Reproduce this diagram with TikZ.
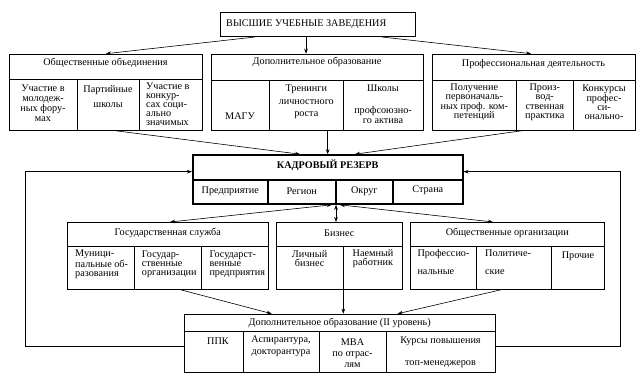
\documentclass[tikz,border=0pt]{standalone}
\usepackage{fontspec}
\setmainfont{Liberation Serif}
\usetikzlibrary{arrows.meta,fit,calc}
\begin{document}
\begin{tikzpicture}[x=1pt,y=-1pt,
  box/.style={draw, line width=0.6pt, inner sep=0pt},
  tbox/.style={draw, line width=1.6pt, inner sep=0pt},
  arr/.style={line width=0.6pt, -{Stealth[length=5pt,width=3.6pt]}},
  darr/.style={line width=0.6pt, {Stealth[length=5pt,width=3.6pt]}-{Stealth[length=5pt,width=3.6pt]}},
  lsp/.style={font=\fontsize{10.2}{#1}\selectfont},
  t/.style={lsp=9.3, inner sep=0pt, align=center},
  tl/.style={t, align=left},
]
\useasboundingbox (0,0) rectangle (643,385);

% ---------- top ----------
\node[box, fit={(220,12.3)(415,36.7)}] (vuz) {};
\node[t, anchor=west] (vuzt) at (226,24) {ВЫСШИЕ УЧЕБНЫЕ ЗАВЕДЕНИЯ};

% ---------- left group ----------
\node[box, fit={(9,54)(202,130)}] (og) {};
\node[box, fit={(9,54)(202,79)}] (ogh) {};
\node[box, fit={(9,79)(77,130)}] (og1) {};
\node[box, fit={(77,79)(139,130)}] (og2) {};
\node[box, fit={(139,79)(202,130)}] (og3) {};
\node[t] (oght) at (105.5,63.3) {Общественные объединения};
\node[t, lsp=10] (og1t) at (43,103.3) {Участие в\\молодеж-\\ных фору-\\мах};
\node[t, lsp=15] (og2t) at (108,96.5) {Партийные\\школы};
\node[tl, lsp=9, anchor=west] (og3t) at (146,104.5) {Участие в\\конкур-\\сах соци-\\ально\\значимых};

% ---------- middle group ----------
\node[box, fit={(211,54)(423,130)}] (do) {};
\node[box, fit={(211,54)(423,80)}] (doh) {};
\node[box, fit={(211,80)(269.5,130)}] (do1) {};
\node[box, fit={(269.5,80)(343,130)}] (do2) {};
\node[box, fit={(343,80)(423,130)}] (do3) {};
\node[t] (doht) at (317,62.3) {Дополнительное образование};
\node[t] (do1t) at (240,116) {МАГУ};
\node[t, lsp=12.5] (do2t) at (306.3,101.8) {Тренинги\\личностного\\роста};
\node[t, lsp=10] (do3t) at (383,104.2) {Школы\\[11.7pt]профсоюзно-\\го актива};

% ---------- right group ----------
\node[box, fit={(432,54)(635,130)}] (pd) {};
\node[box, fit={(432,54)(635,80)}] (pdh) {};
\node[box, fit={(432,80)(516.7,130)}] (pd1) {};
\node[box, fit={(516.7,80)(573,130)}] (pd2) {};
\node[box, fit={(573,80)(635,130)}] (pd3) {};
\node[t] (pdht) at (533.5,64) {Профессиональная деятельность};
\node[t, lsp=9.2] (pd1t) at (474.3,102.2) {Получение\\первоначаль-\\ных проф. ком-\\петенций};
\node[t, lsp=9.2] (pd2t) at (544.8,102.2) {Произ-\\вод-\\ственная\\практика};
\node[t, lsp=9.2] (pd3t) at (604,102.2) {Конкурсы\\профес-\\си-\\онально-};

% ---------- кадровый резерв ----------
\node[tbox, fit={(192.7,155)(462.7,204)}] (kr) {};
\node[tbox, fit={(192.7,155)(462.7,180)}] (krh) {};
\node[tbox, fit={(192.7,180)(268,204)}] (kr1) {};
\node[tbox, fit={(268,180)(335.7,204)}] (kr2) {};
\node[tbox, fit={(335.7,180)(393,204)}] (kr3) {};
\node[tbox, fit={(393,180)(462.7,204)}] (kr4) {};
\node[t, font=\fontsize{10.2}{9.3}\selectfont\bfseries] (krht) at (327.7,165.7) {КАДРОВЫЙ РЕЗЕРВ};
\node[t] (kr1t) at (230.3,191.7) {Предприятие};
\node[t] (kr2t) at (301.8,191.7) {Регион};
\node[t] (kr3t) at (364.3,191.7) {Округ};
\node[t] (kr4t) at (427.8,190) {Страна};

% ---------- государственная служба ----------
\node[box, fit={(67.3,222.3)(268.3,289.3)}] (gs) {};
\node[box, fit={(67.3,222.3)(268.3,246.7)}] (gsh) {};
\node[box, fit={(67.3,246.7)(134.3,289.3)}] (gs1) {};
\node[box, fit={(134.3,246.7)(201,289.3)}] (gs2) {};
\node[box, fit={(201,246.7)(268.3,289.3)}] (gs3) {};
\node[t] (gsht) at (167.8,233.3) {Государственная служба};
\node[tl, lsp=9.1, anchor=west] (gs1t) at (75,264.2) {Муници-\\пальные об-\\разования};
\node[tl, lsp=9.1, anchor=west] (gs2t) at (141.7,264.2) {Государ-\\ственные\\организации};
\node[tl, lsp=9.1, anchor=west] (gs3t) at (209.3,264.2) {Государст-\\венные\\предприятия};

% ---------- бизнес ----------
\node[box, fit={(276,222.3)(402.7,289.3)}] (bz) {};
\node[box, fit={(276,222.3)(402.7,246.7)}] (bzh) {};
\node[box, fit={(276,246.7)(343.3,289.3)}] (bz1) {};
\node[box, fit={(343.3,246.7)(402.7,289.3)}] (bz2) {};
\node[t] (bzht) at (339.3,233.3) {Бизнес};
\node[t, lsp=9] (bz1t) at (309.6,258.8) {Личный\\бизнес};
\node[t, lsp=9] (bz2t) at (373,258.8) {Наемный\\работник};

% ---------- общественные организации ----------
\node[box, fit={(410.7,222.3)(604,289.3)}] (oo) {};
\node[box, fit={(410.7,222.3)(604,246.7)}] (ooh) {};
\node[box, fit={(410.7,246.7)(476.7,289.3)}] (oo1) {};
\node[box, fit={(476.7,246.7)(551.7,289.3)}] (oo2) {};
\node[box, fit={(551.7,246.7)(604,289.3)}] (oo3) {};
\node[t] (ooht) at (507.3,233.3) {Общественные организации};
\node[tl, lsp=17.7, anchor=west] (oo1t) at (417.3,262.2) {Профессио-\\нальные};
\node[tl, lsp=17.7, anchor=west] (oo2t) at (485,262.2) {Политиче-\\ские};
\node[t] (oo3t) at (578,256.7) {Прочие};

% ---------- доп. образование II ----------
\node[box, fit={(184.3,314)(495,372.7)}] (dd) {};
\node[box, fit={(184.3,314)(495,331.7)}] (ddh) {};
\node[box, fit={(184.3,331.7)(243.3,372.7)}] (dd1) {};
\node[box, fit={(243.3,331.7)(319,372.7)}] (dd2) {};
\node[box, fit={(319,331.7)(386,372.7)}] (dd3) {};
\node[box, fit={(386,331.7)(495,372.7)}] (dd4) {};
\node[t] (ddht) at (339.7,322.7) {Дополнительное образование (II уровень)};
\node[t] (dd1t) at (218,340.7) {ППК};
\node[t, lsp=12] (dd2t) at (281,346.7) {Аспирантура,\\докторантура};
\node[t, lsp=11.3] (dd3t) at (352.5,353) {MBA\\по отрас-\\лям};
\node[t, lsp=21.6] (dd4t) at (440.5,352.5) {Курсы повышения\\топ-менеджеров};

% ---------- connectors ----------
\draw[arr] (vuz.south -| 255,0) -- (og.north -| 106,0);
\draw[arr] (vuz.south -| 306,0) -- (do.north -| 306,0);
\draw[arr] (vuz.south -| 382,0) -- (pd.north -| 531,0);

\draw[arr] (og.south -| 112,0) -- (kr.north -| 300,0);
\draw[arr] (do.south -| 327.7,0) -- (kr.north -| 327.7,0);
\draw[arr] (pd.south -| 525,0) -- (kr.north -| 355,0);

\draw[darr] (kr.south -| 331.7,0) -- (gs.north -| 170,0);
\draw[darr] (kr.south -| 336,0) -- (bz.north -| 336,0);
\draw[darr] (kr.south -| 340,0) -- (oo.north -| 493,0);

\draw[arr] (gs.south -| 180,0) -- (dd.north -| 271.7,0);
\draw[arr] (bz.south -| 343.3,0) -- (dd.north -| 343.3,0);
\draw[arr] (oo.south -| 501.7,0) -- (dd.north -| 397.7,0);

\draw[arr] (dd.west |- 0,346.7) -| (25.7,171.7) -- (kr.west |- 0,171.7);
\draw[arr] (dd.east |- 0,346.7) -| (620.7,171.7) -- (kr.east |- 0,171.7);
\end{tikzpicture}
\end{document}
